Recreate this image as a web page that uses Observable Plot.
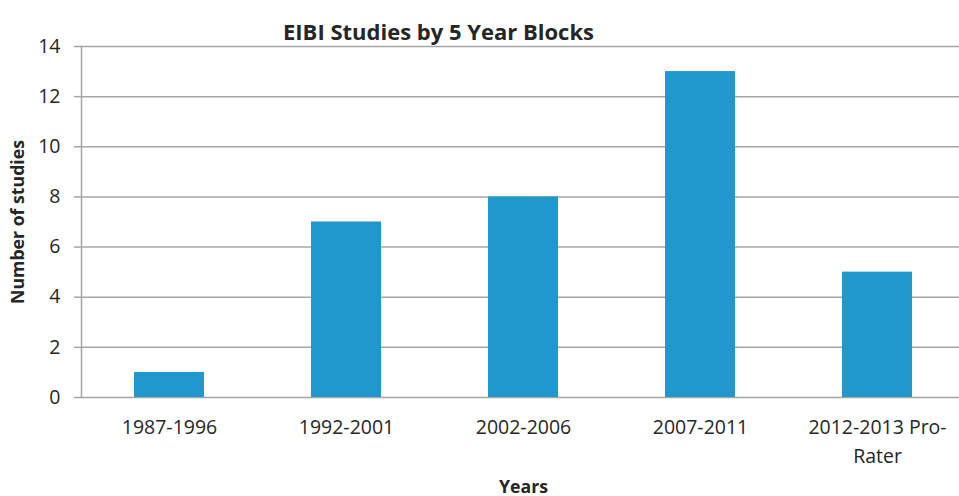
<!DOCTYPE html>
<html><head>
<meta charset="utf-8">
<script src="https://cdn.jsdelivr.net/npm/d3@7"></script>
<script src="https://cdn.jsdelivr.net/npm/@observablehq/plot@0.6"></script>
<style>body{margin:0;background:#fff}</style>
</head><body><div id="chart"></div>
<script>
const categories = ["1987-1996", "1992-2001", "2002-2006", "2007-2011", "2012-2013 Pro-Rater"];
const studies = [1, 7, 8, 13, 5];
const tickLabels = ["1987-1996", "1992-2001", "2002-2006", "2007-2011", "2012-2013 Pro-\nRater"];
const yTicks = [0, 2, 4, 6, 8, 10, 12, 14];
const chartTitle = "EIBI Studies by 5 Year Blocks";
const xTitle = "Years";
const yTitle = "Number of studies";

const data = categories.map((c, i) => ({category: c, value: studies[i]}));
const grey = "#a6a6a6";

const chart = Plot.plot({
  width: 959, height: 496,
  marginTop: 46, marginBottom: 99, marginLeft: 81, marginRight: 0,
  style: {fontFamily: "'Open Sans', sans-serif", fontSize: "19px", color: "#262626", background: "#fff"},
  x: {domain: categories, paddingInner: 0.605, paddingOuter: 0.2825, align: 0.53, label: null},
  y: {domain: [0, 14], label: null},
  marks: [
    Plot.gridY(yTicks, {stroke: grey, strokeOpacity: 1, strokeWidth: 1.5}),
    Plot.axisY(yTicks, {tickSize: 7, tickPadding: 14, stroke: grey, strokeOpacity: 1, strokeWidth: 1.5, label: null, fontSize: 19.5}),
    Plot.frame({anchor: "left", stroke: grey, strokeWidth: 1.5}),
    Plot.barY(data, {x: "category", y: "value", fill: "#2098cc"}),
    Plot.axisX({tickSize: 0, tickPadding: 16, tickFormat: d => tickLabels[categories.indexOf(d)], lineHeight: 1.47, label: null, fontSize: 19.5}),
    Plot.text([chartTitle], {frameAnchor: "top", dy: -22, dx: -82, fontWeight: "bold", fontSize: 22, fill: "#262626"}),
    Plot.text([yTitle], {frameAnchor: "left", textAnchor: "middle", dx: -63, rotate: -90, fontWeight: "bold", fontSize: 17.7, fill: "#262626"}),
    Plot.text([xTitle], {frameAnchor: "bottom", dy: 95, dx: 3, fontWeight: "bold", fontSize: 17.7, fill: "#262626"})
  ]
});
document.getElementById("chart").append(chart);
</script>
</body></html>
